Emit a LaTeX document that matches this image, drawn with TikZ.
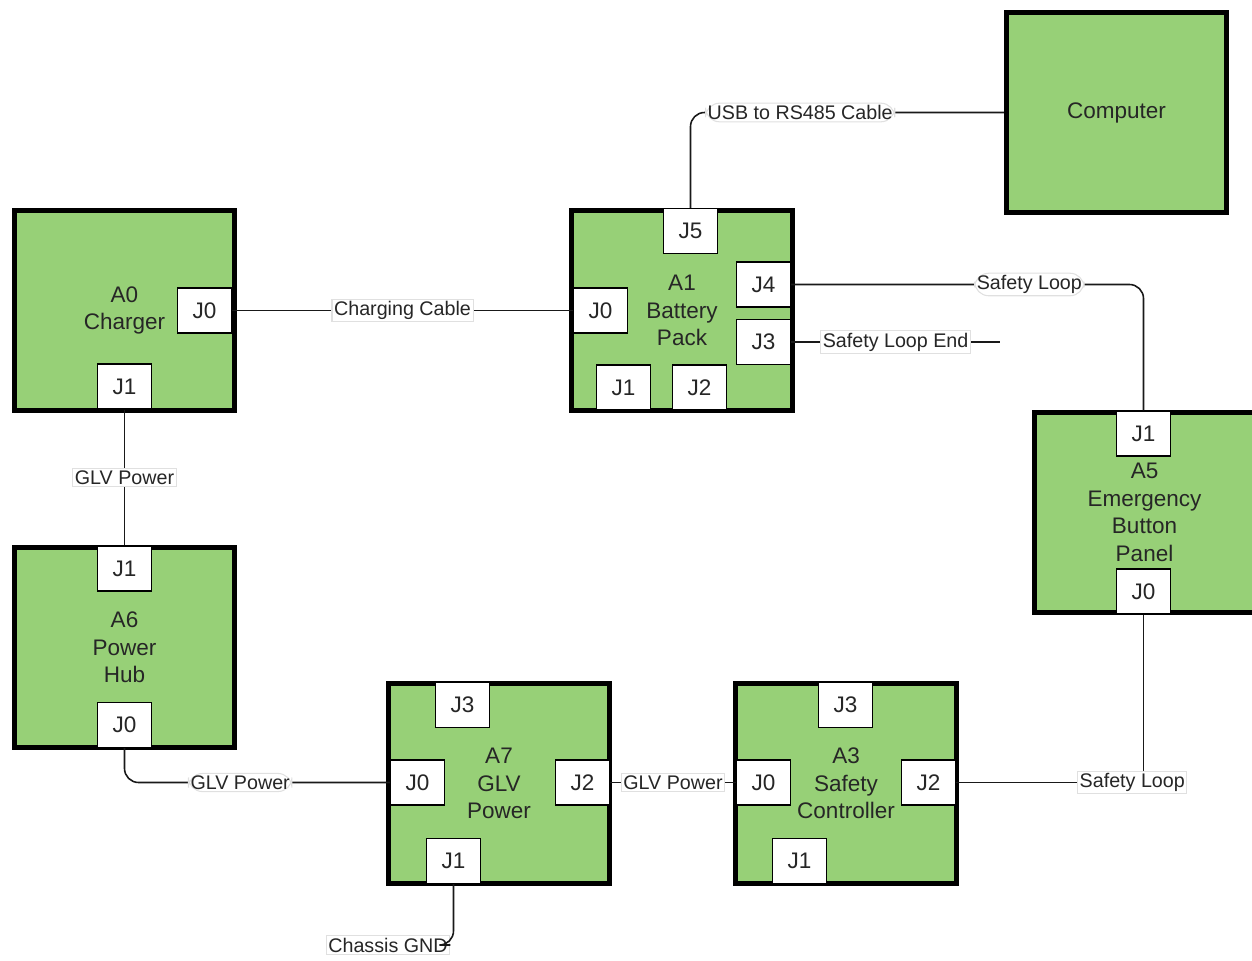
\documentclass[tikz,border=0pt]{standalone}
\usepackage{fontspec}
\setmainfont{Liberation Sans}
\usetikzlibrary{positioning}
\definecolor{unitgreen}{RGB}{151,208,119}
\tikzset{
  unit/.style={
    rectangle,
    draw=black, line width=1.45pt,
    fill=unitgreen,
    minimum width=2.2cm,
    minimum height=2.0cm,
    align=center,
    text=black!85,
    font=\fontsize{6.4}{7.8}\selectfont},
  jack/.style={
    rectangle,
    draw=black, line width=0.35pt,
    fill=white,
    minimum width=0.54cm,
    minimum height=0.45cm,
    inner sep=0pt,
    text=black!85,
    font=\fontsize{6.4}{7.8}\selectfont},
  wire/.style={draw=black!90, line width=0.45pt},
  tag/.style={
    fill=white, draw=black!12, line width=0.3pt,
    inner sep=0.6pt,
    text=black!85,
    font=\fontsize{5.6}{6.7}\selectfont},
}

\begin{document}
\begin{tikzpicture}[x=0.01cm,y=-0.01cm]
  \useasboundingbox (0,0) rectangle (1252,961);
  % units
  \node[unit] (a0) at (124.5,310.5) {A0\\Charger};
  \node[unit] (a1) at (682,310.5) {A1\\Battery\\Pack};
  \node[unit] (pc) at (1116.5,112.5) {Computer};
  \node[unit] (a5) at (1144.5,512.5) {A5\\Emergency\\Button\\Panel};
  \node[unit] (a6) at (124.5,647.5) {A6\\Power\\Hub};
  \node[unit] (a7) at (499,783.5) {A7\\GLV\\Power};
  \node[unit] (a3) at (846,783.5) {A3\\Safety\\Controller};
  % jacks
  \node[jack] (a0j0) at (204.5,310.5) {J0};
  \node[jack] (a0j1) at (124.5,386.5) {J1};
  \node[jack] (a1j5) at (690.5,231) {J5};
  \node[jack] (a1j0) at (600.5,310.5) {J0};
  \node[jack] (a1j4) at (763.5,284.5) {J4};
  \node[jack] (a1j3) at (763.5,342) {J3};
  \node[jack] (a1j1) at (623.5,387.5) {J1};
  \node[jack] (a1j2) at (699.5,387.5) {J2};
  \node[jack] (a5j1) at (1143.5,433.5) {J1};
  \node[jack] (a5j0) at (1143.5,591.5) {J0};
  \node[jack] (a6j1) at (124.5,568.5) {J1};
  \node[jack] (a6j0) at (124.5,725) {J0};
  \node[jack] (a7j3) at (462.5,705) {J3};
  \node[jack] (a7j0) at (417.5,782.5) {J0};
  \node[jack] (a7j2) at (582.5,782.5) {J2};
  \node[jack] (a7j1) at (453.5,861) {J1};
  \node[jack] (a3j3) at (845.5,705) {J3};
  \node[jack] (a3j0) at (763.5,782.5) {J0};
  \node[jack] (a3j2) at (928.5,782.5) {J2};
  \node[jack] (a3j1) at (799.5,861) {J1};
  % cables
  \coordinate (slend) at (1000,342);
  \node[tag] (gnd) at (388,945) {Chassis GND};
  \draw[wire, rounded corners=4pt] (a1j5.north) |- node[tag, pos=0.675] {USB to RS485 Cable} (pc.west);
  \draw[wire] (a0j0.east) -- node[tag] {Charging Cable} (a1j0.west);
  \draw[wire, rounded corners=4pt] (a1j4.east) -| node[tag, pos=0.338] {Safety Loop} (a5j1.north);
  \draw[wire] (a1j3.east) -- node[tag] {Safety Loop End} (slend);
  \draw[wire] (a0j1.south) -- node[tag] {GLV Power} (a6j1.north);
  \draw[wire, rounded corners=4pt] (a6j0.south) |- node[tag, pos=0.718] {GLV Power} (a7j0.west);
  \draw[wire] (a7j2.east) -- node[tag] {GLV Power} (a3j0.west);
  \draw[wire] (a3j2.east) -| node[tag, pos=0.47] {Safety Loop} (a5j0.south);
  \draw[wire, rounded corners=4pt] (a7j1.south) |- (gnd.east);
\end{tikzpicture}
\end{document}
